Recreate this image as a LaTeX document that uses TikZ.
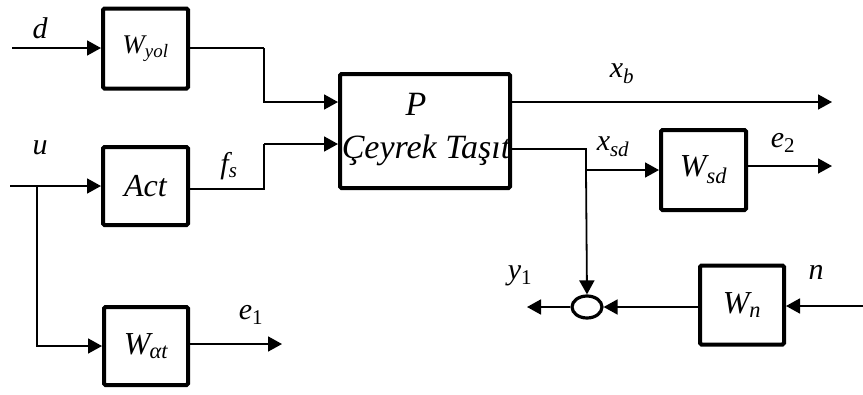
\documentclass[tikz,border=0pt]{standalone}
\usepackage{fontspec}
\setmainfont{Liberation Serif}
\usetikzlibrary{arrows.meta,shapes.geometric}
\newcommand\sig[2]{\textit{#1}\textsubscript{#2}}
\begin{document}
\begin{tikzpicture}[x=1pt,y=-1pt,
  blk/.style={draw,line width=4pt,rounded corners=1.5pt,inner sep=0pt,font=\fontsize{32}{34}\selectfont\itshape},
  arr/.style={line width=1.8pt,-{Triangle[length=14pt,width=15pt]}},
  ln/.style={line width=1.8pt},
  lab/.style={font=\fontsize{30}{32}\selectfont\itshape,inner sep=0pt}]
\useasboundingbox (0,0) rectangle (863,394);
% blocks
\node[blk,minimum width=85pt,minimum height=80pt] (wyol) at (145.5,48.5) {\fontsize{27}{29}\selectfont W\textsubscript{yol}};
\node[blk,minimum width=85pt,minimum height=78pt] (act) at (145.5,186) {Act};
\node[blk,minimum width=84pt,minimum height=78pt] (wact) at (146,346) {W\textsubscript{\kern-1pt αt}};
\node[blk,minimum width=170pt,minimum height=114pt] (P) at (425,131) {};
\node[lab,font=\fontsize{34}{36}\selectfont\itshape] (ptxt) at (416,104) {P};
\node[lab,font=\fontsize{34}{36}\selectfont\itshape] (ctxt) at (426,150) {Çeyrek Taşıt};
\node[blk,minimum width=85pt,minimum height=80pt] (wsd) at (703.5,170) {W\textsubscript{sd}};
\node[blk,minimum width=84pt,minimum height=79pt] (wn) at (742,305) {W\textsubscript{n}};
\node[draw,ellipse,line width=3.2pt,minimum width=30pt,minimum height=22pt,inner sep=0pt] (sum) at (587,307) {};
% coordinates
\coordinate (din) at (12,48);
\coordinate (uin) at (10,186);
\coordinate (usplit) at (37,186);
\coordinate (c1) at (264,48);
\coordinate (c2) at (264,144);
\coordinate (Pin1) at (P.west |- 0,102);
\coordinate (Pin2) at (P.west |- 0,144);
\coordinate (Pout1) at (P.east |- 0,102);
\coordinate (Pout2) at (P.east |- 0,149);
\coordinate (xbend) at (832,102);
\coordinate (c3) at (586,149);
\coordinate (jn) at (586,170);
\coordinate (e2end) at (832,166);
\coordinate (e1end) at (282,344);
\coordinate (y1end) at (527,307);
\coordinate (nin) at (863,306);
% connectors
\draw[arr] (din) -- (wyol.west |- din);
\draw[arr] (uin) -- (act.west |- uin);
\draw[arr] (usplit) |- (wact.west);
\draw[ln] (wyol.east |- c1) -- (c1);
\draw[arr] (c1) |- (Pin1);
\draw[ln] (act.east |- 0,189) -| (c2);
\draw[arr] (c2) -- (Pin2);
\draw[arr] (Pout1) -- (xbend);
\draw[ln] (Pout2) -- (c3) -- (jn);
\draw[arr] (jn) -- (wsd.west |- jn);
\draw[arr] (jn) -- (sum.north);
\draw[arr] (wsd.east |- e2end) -- (e2end);
\draw[arr] (wact.east |- 0,344) -- (e1end);
\draw[arr] (sum.west) -- (y1end);
\draw[arr] (wn.west |- sum) -- (sum.east);
\draw[arr] (nin) -- (wn.east |- nin);
% labels
\node[lab] (ld) at (40,28) {d};
\node[lab] (lu) at (40,148) {u};
\node[lab] (lfs) at (229,166) {\sig{f}{\textit{s}}};
\node[lab] (lxb) at (622,74) {\sig{x}{\textit{b}}};
\node[lab] (lxsd) at (613,147) {\sig{x}{\textit{sd}}};
\node[lab] (le2) at (783,143) {\sig{e}{\upshape 2}};
\node[lab] (ly1) at (520,276) {\sig{y}{\upshape 1}};
\node[lab] (ln) at (816,272) {n};
\node[lab] (le1) at (251,315) {\sig{e}{\upshape 1}};
\end{tikzpicture}
\end{document}
